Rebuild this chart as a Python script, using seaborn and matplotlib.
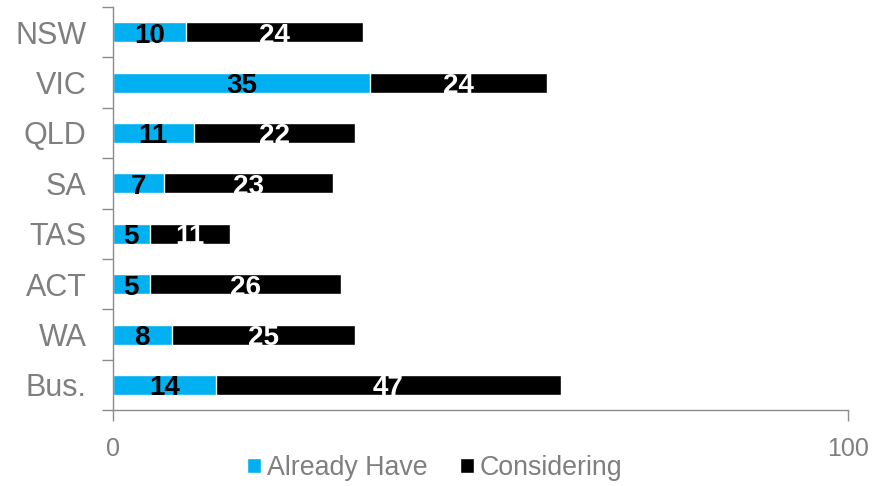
import pandas as pd
import matplotlib
matplotlib.use("Agg")
import matplotlib.pyplot as plt
import seaborn as sns
from matplotlib.patches import Patch
from matplotlib.ticker import FixedLocator

regions = ["NSW", "VIC", "QLD", "SA", "TAS", "ACT", "WA", "Bus."]
already_have = [10, 35, 11, 7, 5, 5, 8, 14]
considering = [24, 24, 22, 23, 11, 26, 25, 47]

blue = "#00B0F0"
grey = "#8C8C8C"
text_grey = "#7F7F7F"

df = pd.DataFrame({"region": regions, "already": already_have, "considering": considering})
df["total"] = df["already"] + df["considering"]

sns.set_style("white")
plt.rcParams["font.family"] = ["Liberation Sans", "DejaVu Sans"]

fig = plt.figure(figsize=(8.75, 4.86), dpi=100)
ax = fig.add_axes([0.129, 0.156, 0.84, 0.8296])

# stacked: total in black underneath, already-have in blue on top
sns.barplot(data=df, y="region", x="total", color="black", orient="h",
            width=0.4, saturation=1, ax=ax)
sns.barplot(data=df, y="region", x="already", color=blue, orient="h",
            width=0.4, saturation=1, ax=ax)

# value labels centred in each segment, nudged down a touch like the original
for i, row in df.iterrows():
    ax.annotate(str(row["already"]), (row["already"] / 2, i), xytext=(0, -2.5),
                textcoords="offset points", ha="center", va="center",
                fontsize=20, fontweight="bold", color="black")
    ax.annotate(str(row["considering"]), (row["already"] + row["considering"] / 2, i),
                xytext=(0, -2.5), textcoords="offset points", ha="center", va="center",
                fontsize=20, fontweight="bold", color="white")

ax.set_xlim(0, 100)
ax.set_ylim(len(regions) - 0.5, -0.5)
ax.set_xticks([0, 100])
ax.set_xlabel("")
ax.set_ylabel("")

# category ticks sit between the bars, like the original
ax.yaxis.set_minor_locator(FixedLocator([k - 0.5 for k in range(len(regions) + 1)]))
ax.tick_params(axis="y", which="major", length=0, pad=19, labelsize=22, labelcolor=text_grey)
ax.tick_params(axis="y", which="minor", length=8, width=1, color=grey, direction="out", left=True)
ax.tick_params(axis="x", which="major", length=8, width=1, color=grey, direction="out",
               bottom=True, pad=11, labelsize=18, labelcolor=text_grey)

sns.despine(ax=ax, top=True, right=True)
for s in ["left", "bottom"]:
    ax.spines[s].set_color(grey)
    ax.spines[s].set_linewidth(1)

handles = [Patch(facecolor=blue, label="Already Have"),
           Patch(facecolor="black", label="Considering")]
fig.legend(handles=handles, loc="center", bbox_to_anchor=(0.497, 0.037), ncol=2,
           frameon=False, fontsize=19.3, labelcolor=text_grey, handlelength=0.52,
           handleheight=0.52, handletextpad=0.22, columnspacing=1.2)

fig.savefig("out.png", dpi=100)
